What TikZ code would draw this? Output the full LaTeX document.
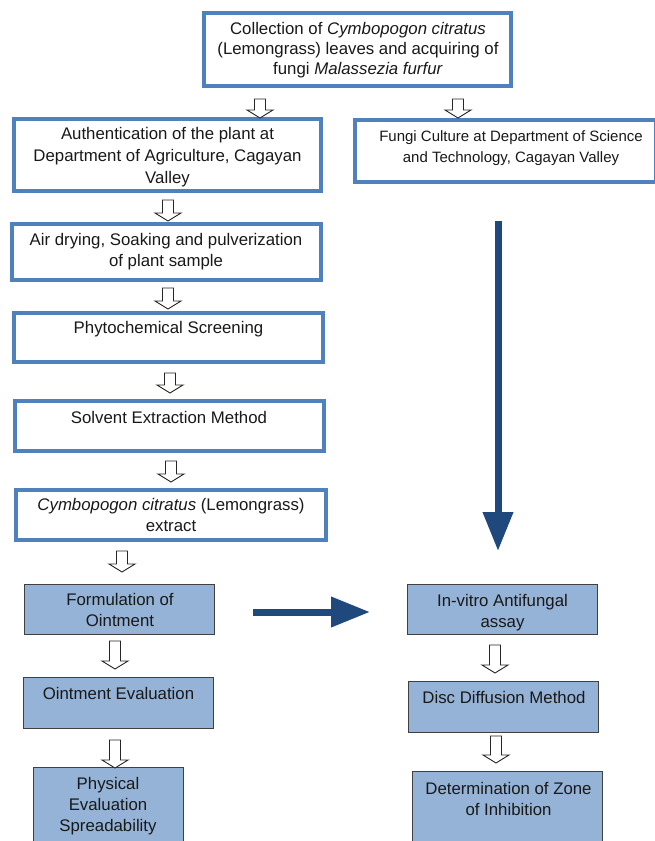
\documentclass[tikz,border=0pt]{standalone}
\usepackage{fontspec}
\setmainfont{Liberation Sans}
\usetikzlibrary{arrows.meta,fit}
\definecolor{boxblue}{HTML}{4F81BD}
\definecolor{fillblue}{HTML}{95B3D7}
\definecolor{darkblue}{HTML}{1F497D}
\definecolor{edgegray}{HTML}{404040}
\newcommand{\lnst}{\rule[-4pt]{0pt}{20pt}}
% hollow down arrow: name, x, ytop, ytip
\newcommand{\hollowdown}[4]{%
  \coordinate (#1) at (#2,#3);
  \draw[hollowarrow] ({#2-5.5},#3) -- ({#2+5.5},#3) -- ({#2+5.5},{#4-8}) -- ({#2+13},{#4-8}) -- (#2,#4) -- ({#2-13},{#4-8}) -- ({#2-5.5},{#4-8}) -- cycle;}
\begin{document}
\begin{tikzpicture}[x=1pt,y=-1pt,
  bluebox/.style={draw=boxblue, line width=4pt, inner sep=0pt, fill=white},
  filledbox/.style={draw=edgegray, line width=1.3pt, fill=fillblue, inner sep=0pt},
  txt/.style={font=\fontsize{16.8}{21}\selectfont, align=center, inner sep=0pt, text=black!90},
  hollowarrow/.style={draw=black!85, line width=0.9pt, fill=white, line join=miter},
  bigarrow/.style={draw=darkblue, line width=7pt, -{Triangle[width=29pt,length=39pt]}}
]
\useasboundingbox (0,0) rectangle (655,841);
\clip (0,0) rectangle (655,841);
\fill[white] (0,0) rectangle (655,841);

% upper boxes
\node[bluebox, fit={(204,13) (511,86)}] (top) {};
\node[bluebox, fit={(14,119) (321,191)}] (auth) {};
\node[bluebox, fit={(355,120) (656,182)}] (fungi) {};
\node[bluebox, fit={(12,224) (321,280)}] (air) {};
\node[bluebox, fit={(14,313) (323,362)}] (phyto) {};
\node[bluebox, fit={(15,401) (324,451)}] (solv) {};
\node[bluebox, fit={(16,490) (326,540)}] (extr) {};

% lower boxes
\node[filledbox, fit={(24.6,584.6) (214.4,634.4)}] (form) {};
\node[filledbox, fit={(23.6,677.6) (213.4,728.4)}] (oeval) {};
\node[filledbox, fit={(33.6,767.6) (183.4,860)}] (phys) {};
\node[filledbox, fit={(407.6,584.6) (597.4,634.4)}] (invitro) {};
\node[filledbox, fit={(408.6,681.6) (598.4,732.4)}] (disc) {};
\node[filledbox, fit={(412.6,771.6) (602.4,860)}] (zone) {};

% texts
\node[txt, font=\fontsize{16.8}{20}\selectfont] (ttop) at (358,48) {\lnst Collection of \textit{Cymbopogon citratus}\\\lnst(Lemongrass) leaves and acquiring of\\\lnst fungi \textit{Malassezia furfur}};
\node[txt, font=\fontsize{16.8}{22}\selectfont] (tauth) at (167.5,155) {\lnst Authentication of the plant at\\\lnst Department of Agriculture, Cagayan\\\lnst Valley};
\node[txt, font=\fontsize{15}{18.5}\selectfont] (tfungi) at (511,146) {\lnst Fungi Culture at Department of Science\\\lnst and Technology, Cagayan Valley};
\node[txt] (tair) at (166,250) {\lnst Air drying, Soaking and pulverization\\\lnst of plant sample};
\node[txt] (tphyto) at (168.5,327) {\lnst Phytochemical Screening};
\node[txt] (tsolv) at (169,417) {\lnst Solvent Extraction Method};
\node[txt] (textr) at (171,515) {\lnst\textit{Cymbopogon citratus} (Lemongrass)\\\lnst extract};
\node[txt] (tform) at (120,609.5) {\lnst Formulation of\\\lnst Ointment};
\node[txt] (toeval) at (118.5,693) {\lnst Ointment Evaluation};
\node[txt] (tphys) at (108,804) {\lnst Physical\\\lnst Evaluation\\\lnst Spreadability};
\node[txt] (tinvitro) at (502.5,611) {\lnst In-vitro Antifungal\\\lnst assay};
\node[txt] (tdisc) at (504,697) {\lnst Disc Diffusion Method};
\node[txt] (tzone) at (508.5,798.5) {\lnst Determination of Zone\\\lnst of Inhibition};

% small hollow arrows
\hollowdown{a1}{260}{99}{118}
\hollowdown{a2}{458}{99}{118}
\hollowdown{a3}{168}{200}{221}
\hollowdown{a4}{168}{288}{309}
\hollowdown{a5}{170}{373}{393}
\hollowdown{a6}{171}{461}{482}
\hollowdown{a7}{122}{551}{572}
\hollowdown{a8}{115}{641}{669}
\hollowdown{a9}{115}{740}{768}
\hollowdown{a10}{495}{645}{673}
\hollowdown{a11}{496}{736}{763}

% big arrows
\coordinate (vtop) at (498,221);
\coordinate (vtip) at (498,551);
\coordinate (htail) at (253,612);
\coordinate (htip) at (370,612);
\draw[bigarrow] (vtop) -- (vtip);
\draw[bigarrow] (htail) -- (htip);
\end{tikzpicture}
\end{document}
